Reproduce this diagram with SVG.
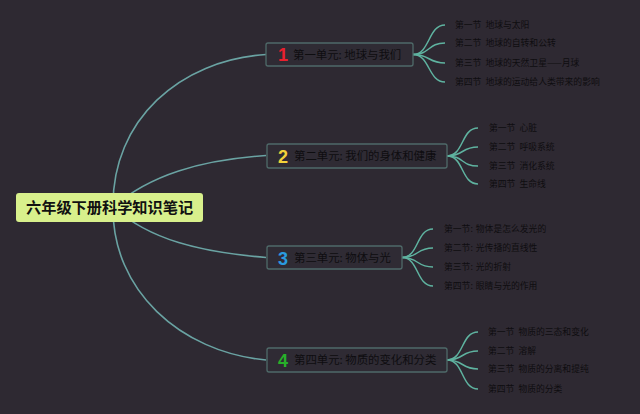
<svg xmlns="http://www.w3.org/2000/svg" width="640" height="414" viewBox="0 0 640 414">
<style>
.bg{fill:#2e2932}
.main{fill:none;stroke:#6aa3a3;stroke-width:1.6}
.sub{fill:none;stroke:#5fb3a0;stroke-width:1.5}
.unit{fill:#2f2b34;stroke:#4f6a69;stroke-width:1.3}
.root{fill:#d8f08c}
.rt{font-family:"Noto Sans CJK SC","Liberation Sans",sans-serif;font-size:15.2px;font-weight:bold;fill:#111}
.ut{font-family:"Noto Sans CJK SC","Liberation Sans",sans-serif;font-size:11.4px;fill:#0e0d10}
.num{font-family:"Liberation Sans","Noto Sans",sans-serif;font-size:18px;font-weight:bold}
.lt{font-family:"Noto Sans CJK SC","Liberation Sans",sans-serif;font-size:8.8px;fill:#0e0d10}
</style>
<rect class="bg" x="0" y="0" width="640" height="414"/>
<g id="connectors">
<path class="main" d="M113,207 C112,120 180,60 266,54.5"/>
<path class="main" d="M113,207 C150,175 200,160 266,155.5"/>
<path class="main" d="M113,207 C150,240 200,252 266,257.5"/>
<path class="main" d="M113,207 C112,290 180,352 266,360"/>
<path class="sub" d="M413,54.5 C430,54.5 428,25 445,25"/>
<path class="sub" d="M413,54.5 C430,54.5 428,43 445,43"/>
<path class="sub" d="M413,54.5 C430,54.5 428,63 445,63"/>
<path class="sub" d="M413,54.5 C430,54.5 428,82 445,82"/>
<path class="sub" d="M447,156 C464,156 461,128 478,128"/>
<path class="sub" d="M447,156 C464,156 461,147 478,147"/>
<path class="sub" d="M447,156 C464,156 461,166 478,166"/>
<path class="sub" d="M447,156 C464,156 461,184 478,184"/>
<path class="sub" d="M402,257.5 C419,257.5 416,229 433,229"/>
<path class="sub" d="M402,257.5 C419,257.5 416,248 433,248"/>
<path class="sub" d="M402,257.5 C419,257.5 416,267 433,267"/>
<path class="sub" d="M402,257.5 C419,257.5 416,286 433,286"/>
<path class="sub" d="M447,360 C464,360 461,332 478,332"/>
<path class="sub" d="M447,360 C464,360 461,351 478,351"/>
<path class="sub" d="M447,360 C464,360 461,369 478,369"/>
<path class="sub" d="M447,360 C464,360 461,389 478,389"/>
</g>
<g id="root">
<rect class="root" x="16" y="193" width="187" height="29" rx="3"/>
<text class="rt" x="26" y="213">六年级下册科学知识笔记</text>
</g>
<g id="unit1">
<rect class="unit" x="266" y="43" width="147" height="23" rx="2"/>
<text class="num" x="278" y="61" fill="#e8202e">1</text>
<text class="ut" x="293" y="58.5">第一单元: 地球与我们</text>
</g>
<g id="unit2">
<rect class="unit" x="267" y="144" width="180" height="24" rx="2"/>
<text class="num" x="278" y="162.5" fill="#f2d23a">2</text>
<text class="ut" x="294" y="160">第二单元: 我们的身体和健康</text>
</g>
<g id="unit3">
<rect class="unit" x="267" y="246" width="135" height="23" rx="2"/>
<text class="num" x="278" y="264.5" fill="#2a9be0">3</text>
<text class="ut" x="294" y="261.5">第三单元: 物体与光</text>
</g>
<g id="unit4">
<rect class="unit" x="267" y="348" width="180" height="24" rx="2"/>
<text class="num" x="278" y="366.5" fill="#27b02a">4</text>
<text class="ut" x="294" y="364">第四单元: 物质的变化和分类</text>
</g>
<g id="leaves1">
<text class="lt" x="455" y="28">第一节 <tspan dx="2">地球与太阳</tspan></text>
<text class="lt" x="455" y="46">第二节 <tspan dx="2">地球的自转和公转</tspan></text>
<text class="lt" x="455" y="66">第三节 <tspan dx="2">地球的天然卫星——月球</tspan></text>
<text class="lt" x="455" y="85">第四节 <tspan dx="2">地球的运动给人类带来的影响</tspan></text>
</g>
<g id="leaves2">
<text class="lt" x="489" y="131">第一节 <tspan dx="2">心脏</tspan></text>
<text class="lt" x="489" y="150">第二节 <tspan dx="2">呼吸系统</tspan></text>
<text class="lt" x="489" y="169">第三节 <tspan dx="2">消化系统</tspan></text>
<text class="lt" x="489" y="187">第四节 <tspan dx="2">生命线</tspan></text>
</g>
<g id="leaves3">
<text class="lt" x="444" y="232">第一节: <tspan dx="1">物体是怎么发光的</tspan></text>
<text class="lt" x="444" y="251">第二节: <tspan dx="1">光传播的直线性</tspan></text>
<text class="lt" x="444" y="270">第三节: <tspan dx="1">光的折射</tspan></text>
<text class="lt" x="444" y="289">第四节: <tspan dx="1">眼睛与光的作用</tspan></text>
</g>
<g id="leaves4">
<text class="lt" x="488" y="335">第一节 <tspan dx="2">物质的三态和变化</tspan></text>
<text class="lt" x="488" y="354">第二节 <tspan dx="2">溶解</tspan></text>
<text class="lt" x="488" y="372">第三节 <tspan dx="2">物质的分离和提纯</tspan></text>
<text class="lt" x="488" y="392">第四节 <tspan dx="2">物质的分类</tspan></text>
</g>
</svg>
